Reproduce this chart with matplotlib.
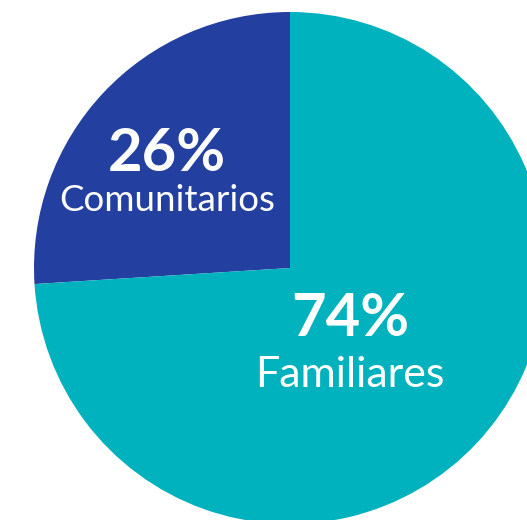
import matplotlib
matplotlib.use("Agg")
import matplotlib.pyplot as plt

categories = ["Comunitarios", "Familiares"]
values = [26, 74]
pct_labels = ["26%", "74%"]
colors = ["#233FA0", "#00B2BD"]

W, H = 527, 520
fig = plt.figure(figsize=(W / 100, H / 100), dpi=100)
ax = fig.add_axes([0, 0, 1, 1])

cx, cy, r = 290, H - 268, 256
ax.pie(values, colors=colors, startangle=90, counterclock=True,
       center=(cx, cy), radius=r, frame=True,
       wedgeprops=dict(linewidth=0))
ax.set_xlim(0, W)
ax.set_ylim(0, H)
ax.set_aspect("equal")
ax.axis("off")

# labels: (x, pct baseline, category baseline, pct size, category size)
pos = [(167, H - 171, H - 211, 43, 26.5), (350, H - 336, H - 387, 43, 31)]
for (x, yp, yc, sp, sc), p, c in zip(pos, pct_labels, categories):
    ax.text(x, yp, p, ha="center", va="baseline", color="white",
            fontsize=sp, fontweight="bold", family="Lato")
    ax.text(x, yc, c, ha="center", va="baseline", color="white",
            fontsize=sc, family="Lato")

fig.savefig("out.png", dpi=100)
